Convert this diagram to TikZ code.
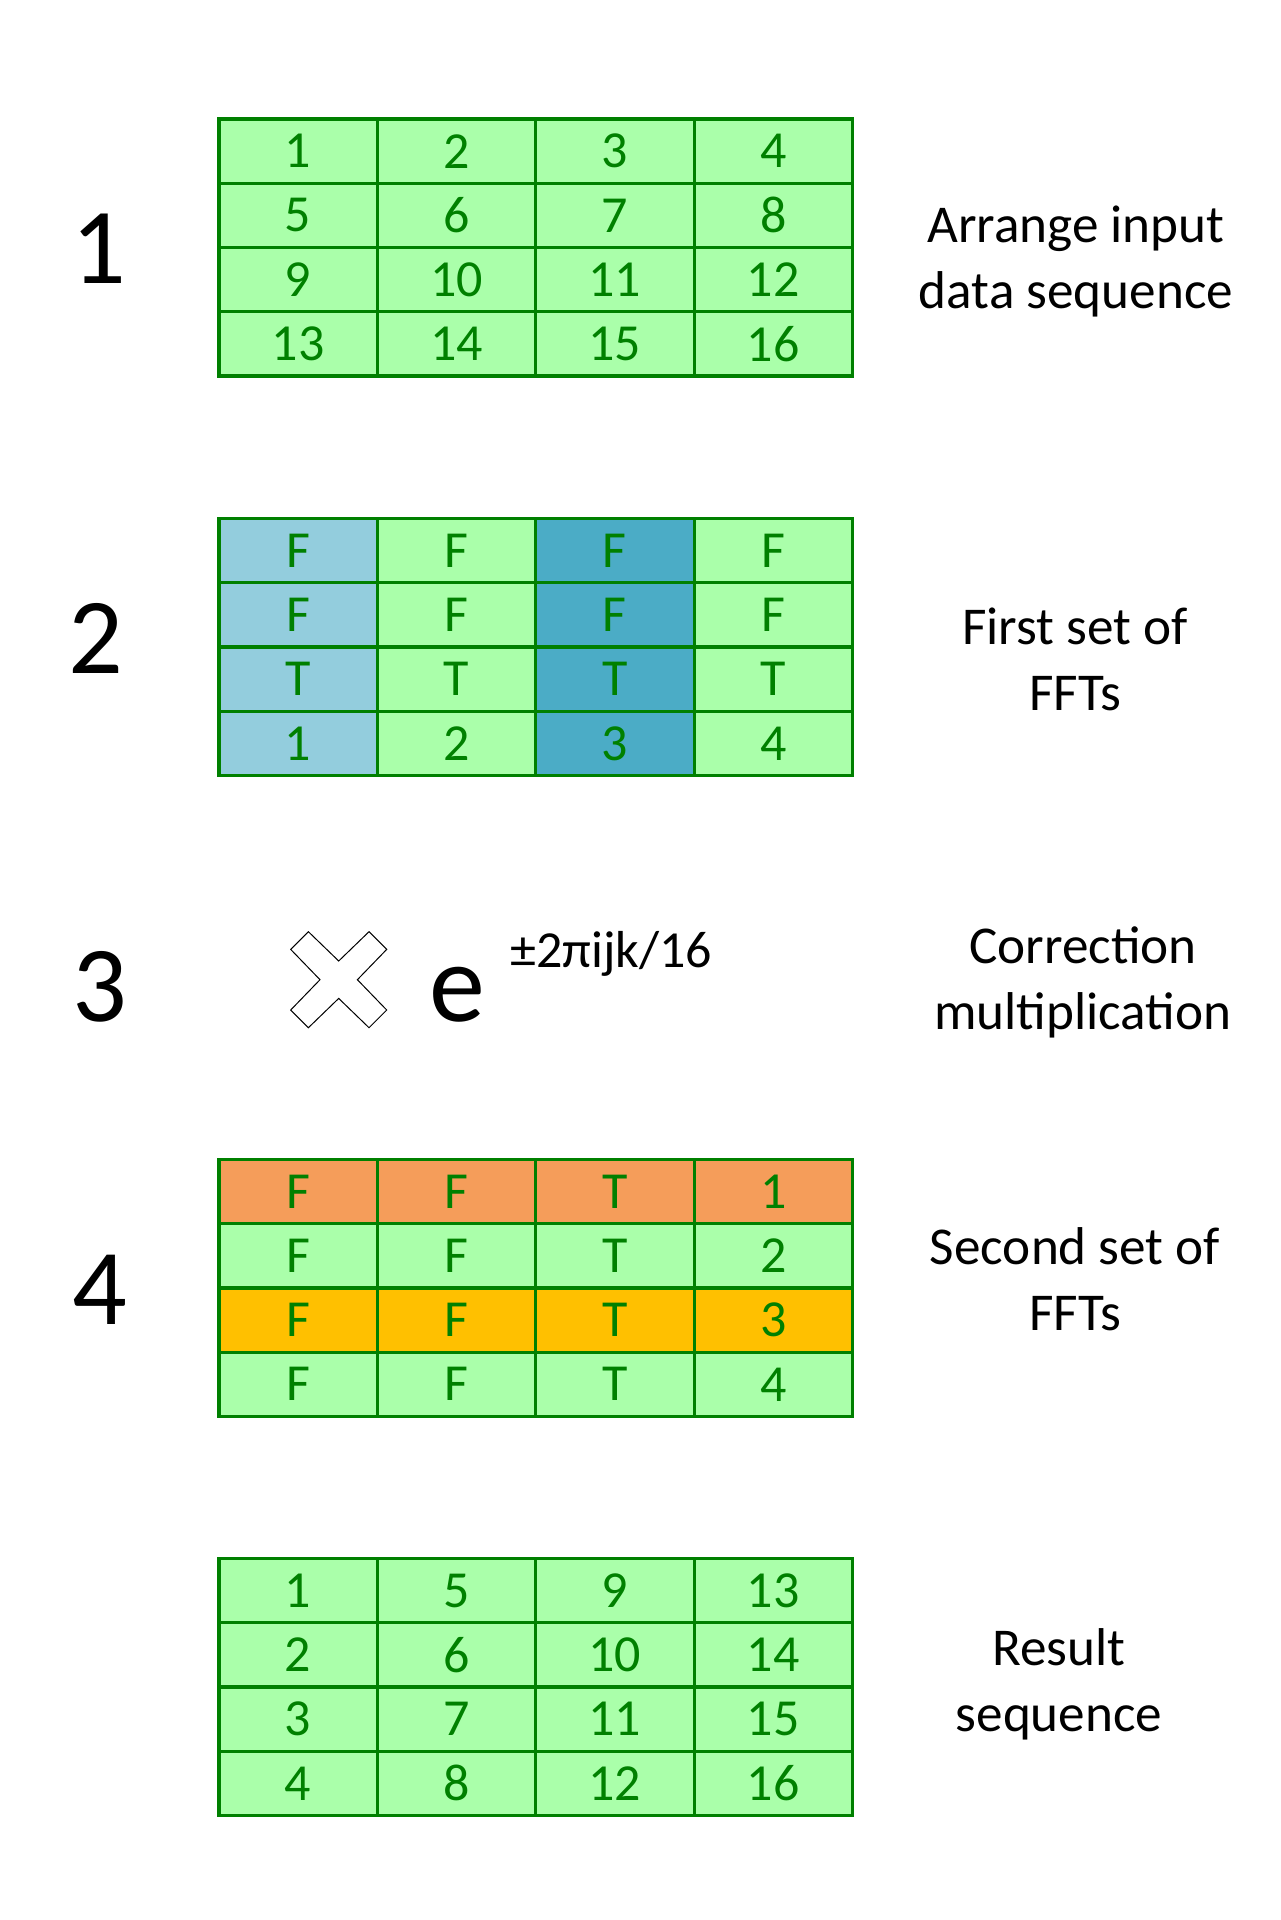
\documentclass[tikz,border=0pt]{standalone}
\usepackage{fontspec}
\setmainfont{Carlito}
\usetikzlibrary{matrix}
\definecolor{cellgreen}{HTML}{AAFFAA}
\definecolor{linegreen}{HTML}{008000}
\definecolor{paleblue}{HTML}{93CDDD}
\definecolor{deepblue}{HTML}{4BACC6}
\definecolor{roworange}{HTML}{F59D5A}
\definecolor{rowgold}{HTML}{FFC000}

\begin{document}
\begin{tikzpicture}[x=0.5pt,y=-0.5pt,
grid/.style={matrix of nodes,nodes={draw=linegreen, line width=1.6pt, fill=cellgreen,
    text=linegreen, minimum width=79.2pt, minimum height=32.1pt, anchor=center,
    inner sep=0pt, font=\fontsize{26}{31}\selectfont},
  column sep=-\pgflinewidth, row sep=-\pgflinewidth},
stagenum/.style={font=\fontsize{54}{65}\selectfont},
note/.style={align=center, font=\fontsize{26.6}{33}\selectfont}]
\useasboundingbox (0,0) rectangle (1280,1920);
% step 1
\node[stagenum] (n1) at (99,249) {1};
\matrix[grid, line width=1.6pt] (input) at (535.7,247.5) {
1 & 2 & 3 & 4\\
5 & 6 & 7 & 8\\
9 & 10 & 11 & 12\\
13 & 14 & 15 & 16\\};
\node[note] (l1) at (1076,261.5) {Arrange input\\data sequence};
% step 2
\node[stagenum] (n2) at (96,638) {2};
\matrix[grid, line width=1.6pt, column 1/.style={nodes={fill=paleblue}},
  column 3/.style={nodes={fill=deepblue}}] (first) at (535.7,647) {
F & F & F & F\\
F & F & F & F\\
T & T & T & T\\
1 & 2 & 3 & 4\\};
\node[note] (l2) at (1075,659) {First set of\\FFTs};
% step 3
\node[stagenum] (n3) at (100,987) {3};
\coordinate (cross) at (338.7,979.7);
\draw[fill=white, line width=0.5pt, shift={(cross)}] (0,-18.7) -- (30.3,-48) -- (48,-30.3)
  -- (18.7,0) -- (48,30.3) -- (30.3,48) -- (0,18.7) -- (-30.3,48) -- (-48,30.3)
  -- (-18.7,0) -- (-48,-30.3) -- (-30.3,-48) -- cycle;
\node[font=\fontsize{56}{64}\selectfont, anchor=base] (e) at (457,1021) {e};
\node[font=\fontsize{26}{31}\selectfont, anchor=base west, inner sep=0pt] (expo) at (510,967) {±2πijk/16};
\node[note] (l3) at (1083,982.5) {Correction\\multiplication};
% step 4
\node[stagenum] (n4) at (100,1290) {4};
\matrix[grid, line width=1.6pt, row 1/.style={nodes={fill=roworange}},
  row 3/.style={nodes={fill=rowgold}}] (second) at (535.7,1288) {
F & F & T & 1\\
F & F & T & 2\\
F & F & T & 3\\
F & F & T & 4\\};
\node[note] (l4) at (1075,1279) {Second set of\\FFTs};
% result
\matrix[grid, line width=1.6pt] (result) at (535.7,1687) {
1 & 5 & 9 & 13\\
2 & 6 & 10 & 14\\
3 & 7 & 11 & 15\\
4 & 8 & 12 & 16\\};
\node[note] (l5) at (1059,1684) {Result\\sequence};
\end{tikzpicture}
\end{document}
